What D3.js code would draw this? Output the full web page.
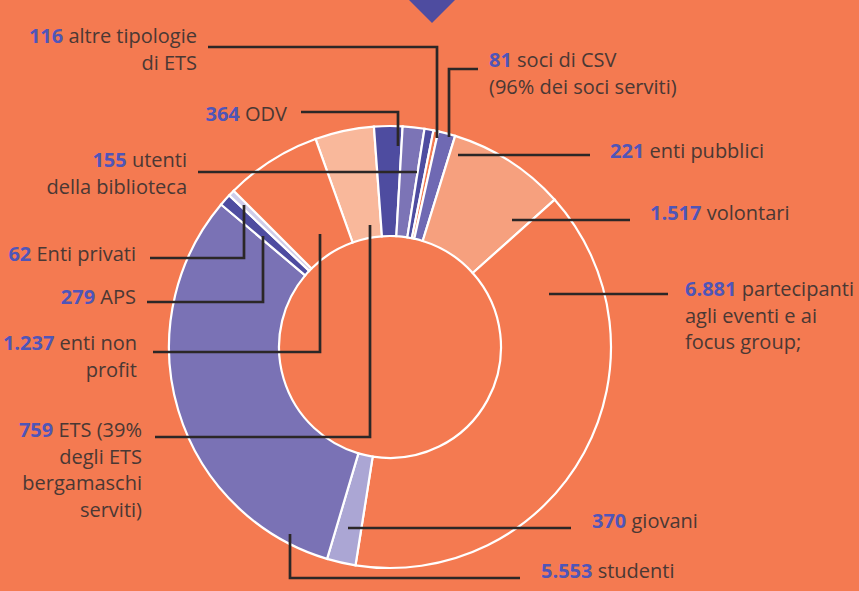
<!DOCTYPE html>
<html>
<head>
<meta charset="utf-8">
<script src="https://cdn.jsdelivr.net/npm/d3@7"></script>
<style>
  html, body { margin: 0; padding: 0; background: #F47A51; }
  svg { display: block; }
  text { font-family: "Open Sans", "Noto Sans", sans-serif; font-size: 20px; fill: #4A3834; }
  .num { font-weight: 700; fill: #4F55B8; }
</style>
</head>
<body>
<svg id="chart"></svg>
<script>
// slices, clockwise starting from the ETS slice
const names = ['ETS', 'ODV', 'APS', 'altre tipologie', 'Enti privati', 'enti pubblici',
  'volontari', 'partecipanti', 'giovani', 'studenti', 'utenti biblioteca', 'soci CSV', 'enti non profit'];
const values = [759, 364, 279, 116, 62, 221, 1517, 6881, 370, 5553, 155, 81, 1237];
const colors = ['#F9B89B', '#4E4CA0', '#7C74B6', '#4E4CA0', '#F47A51', '#6F69B3',
  '#F6A07E', '#F47A51', '#ABA6D4', '#7A72B5', '#4E4CA0', '#CFCDEA', '#F47A51'];

// label texts: bold number, first line rest, following lines
const labelNums = ['116', '81', '364', '155', '221', '1.517', '6.881', '62', '279', '1.237', '759', '370', '5.553'];
const labelText = [
  [' altre tipologie', 'di ETS'],
  [' soci di CSV', '(96% dei soci serviti)'],
  [' ODV'],
  [' utenti', 'della biblioteca'],
  [' enti pubblici'],
  [' volontari'],
  [' partecipanti', 'agli eventi e ai', 'focus group;'],
  [' Enti privati'],
  [' APS'],
  [' enti non', 'profit'],
  [' ETS (39%', 'degli ETS', 'bergamaschi', 'serviti)'],
  [' giovani'],
  [' studenti']
];

const width = 859, height = 591;
const cx = 390, cy = 347, rOuter = 221, rInner = 111;
const start = -19.7 * Math.PI / 180;

// label placement (anchor, x, first baseline) and leader lines
const labelPos = [
  ['end', 197, 43], ['start', 489, 67], ['end', 287, 121], ['end', 187, 167],
  ['start', 610, 158], ['start', 650, 220], ['start', 685, 296],
  ['end', 136, 261], ['end', 136, 304], ['end', 137, 350], ['end', 142, 437],
  ['start', 592, 528], ['start', 541, 578]
];
const leaders = [
  [[208, 47], [437, 47], [437, 138]],
  [[478, 69], [449, 69], [449, 137]],
  [[301, 112], [398, 112], [398, 146]],
  [[198, 172], [417, 172]],
  [[590, 155], [458, 155]],
  [[630, 220], [512, 220]],
  [[668, 294], [549, 294]],
  [[150, 258], [244, 258], [244, 205]],
  [[147, 302], [263, 302], [263, 236]],
  [[153, 352], [320, 352], [320, 234]],
  [[155, 437], [370, 437], [370, 225]],
  [[571, 528], [348, 528]],
  [[520, 578], [290, 578], [290, 534]]
];

const svg = d3.select('#chart')
  .attr('width', width)
  .attr('height', height);

svg.append('rect')
  .attr('width', width)
  .attr('height', height)
  .attr('fill', '#F47A51');

// little marker at the top
svg.append('path')
  .attr('d', 'M409,0 L455,0 L432,23 Z')
  .attr('fill', '#4E4CA0');

const pie = d3.pie()
  .sort(null)
  .startAngle(start)
  .endAngle(start + 2 * Math.PI)
  .value(d => d);

const arc = d3.arc()
  .innerRadius(rInner)
  .outerRadius(rOuter);

svg.append('g')
  .attr('transform', `translate(${cx},${cy})`)
  .selectAll('path')
  .data(pie(values))
  .enter()
  .append('path')
  .attr('d', arc)
  .attr('fill', (d, i) => colors[i])
  .attr('stroke', '#fff')
  .attr('stroke-width', 2.2);

const line = d3.line();
svg.append('g')
  .selectAll('path')
  .data(leaders)
  .enter()
  .append('path')
  .attr('d', d => line(d))
  .attr('fill', 'none')
  .attr('stroke', '#2B2727')
  .attr('stroke-width', 2.7);

const lh = 26.5;
labelNums.forEach((num, i) => {
  const [anchor, x, y] = labelPos[i];
  const t = svg.append('text')
    .attr('text-anchor', anchor)
    .attr('x', x)
    .attr('y', y);
  const first = t.append('tspan').attr('x', x).attr('y', y);
  first.append('tspan').attr('class', 'num').text(num);
  first.append('tspan').text(labelText[i][0]);
  labelText[i].slice(1).forEach((s, j) => {
    t.append('tspan')
      .attr('x', x)
      .attr('y', y + lh * (j + 1))
      .text(s);
  });
});
</script>
</body>
</html>
